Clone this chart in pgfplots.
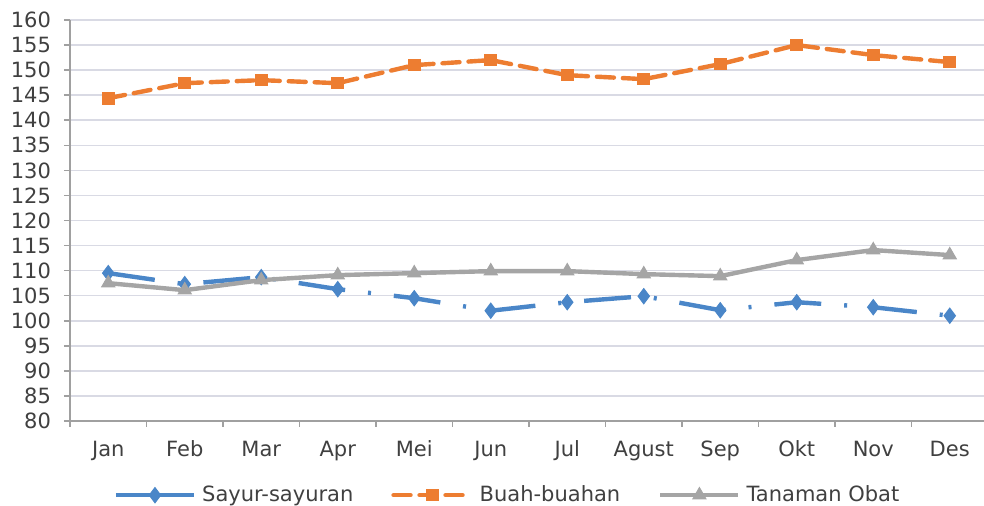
\documentclass[border=0pt]{standalone}
\usepackage{pgfplots}
\pgfplotsset{compat=1.18}
\usepackage{fontspec}
\setmainfont{DejaVu Sans}
\definecolor{cblue}{HTML}{4A86C8}
\definecolor{corange}{HTML}{ED7D31}
\definecolor{cgray}{HTML}{A5A5A5}
\definecolor{cgrid}{HTML}{D9DAE4}
\definecolor{caxis}{HTML}{A0A0A0}
\definecolor{ctext}{HTML}{404040}
\begin{document}
\begin{tikzpicture}
\useasboundingbox (-35pt,-42.5pt) rectangle (457pt,210.5pt);
\begin{axis}[
  at={(0,0)}, anchor=south west,
  scale only axis, width=459pt, height=200.5pt,
  xmin=-0.5, xmax=11.5, ymin=80, ymax=160,
  ytick={80,85,...,160},
  xtick={-0.5,0.5,...,11.5}, xticklabels={},
  extra x ticks={0,1,2,3,4,5,6,7,8,9,10,11},
  extra x tick labels={Jan,Feb,Mar,Apr,Mei,Jun,Jul,Agust,Sep,Okt,Nov,Des},
  extra x tick style={major tick length=0pt, xticklabel style={yshift=-6pt, text height=1.5ex, text depth=0.25ex}},
  axis x line=bottom, axis y line=left,
  axis line style={-, caxis, line width=0.8pt},
  tick align=outside, major tick length=3pt,
  tick style={caxis, line width=0.8pt},
  ymajorgrids, grid style={cgrid, line width=0.8pt},
  ticklabel style={font=\fontsize{10.5}{12}\selectfont, text=ctext},
  yticklabel style={xshift=-3pt},
  /pgf/number format/assume math mode=true,
  legend columns=3,
  legend style={at={(0.4777,-0.185)}, anchor=center, draw=none, fill=none,
    font=\fontsize{10.5}{12}\selectfont, text=ctext,
    /tikz/every odd column/.append style={column sep=1pt},
    /tikz/every even column/.append style={column sep=17pt}},
  legend image code/.code={\draw[mark repeat=2,mark phase=2] plot coordinates {(0pt,0pt)(19.5pt,0pt)(39pt,0pt)};},
]
\addplot[cblue, line width=2.2pt, dash pattern=on 23.5pt off 11.5pt on 1.5pt off 11.5pt,
  mark=diamond*, mark size=3.8pt, mark options={solid, fill=cblue, draw=cblue, line width=0.5pt},
  legend image post style={solid}]
  coordinates {(0,109.5)(1,107.3)(2,108.7)(3,106.3)(4,104.5)(5,102)(6,103.7)(7,104.9)(8,102.1)(9,103.7)(10,102.7)(11,101)};
\addlegendentry{Sayur-sayuran}
\addplot[corange, line width=2.2pt, dash pattern=on 8.5pt off 4.5pt, line cap=round,
  mark=square*, mark size=2.9pt, mark options={solid, fill=corange, draw=corange, line width=0.5pt}]
  coordinates {(0,144.4)(1,147.4)(2,148)(3,147.4)(4,151)(5,152)(6,149)(7,148.2)(8,151.2)(9,155)(10,153)(11,151.6)};
\addlegendentry{Buah-buahan}
\addplot[cgray, line width=2.2pt,
  mark=triangle*, mark size=3.8pt, mark options={solid, fill=cgray, draw=cgray, line width=0.5pt}]
  coordinates {(0,107.5)(1,106.1)(2,108.1)(3,109.1)(4,109.5)(5,109.9)(6,109.9)(7,109.3)(8,108.9)(9,112.1)(10,114.1)(11,113.1)};
\addlegendentry{Tanaman Obat}
\end{axis}
\end{tikzpicture}
\end{document}
